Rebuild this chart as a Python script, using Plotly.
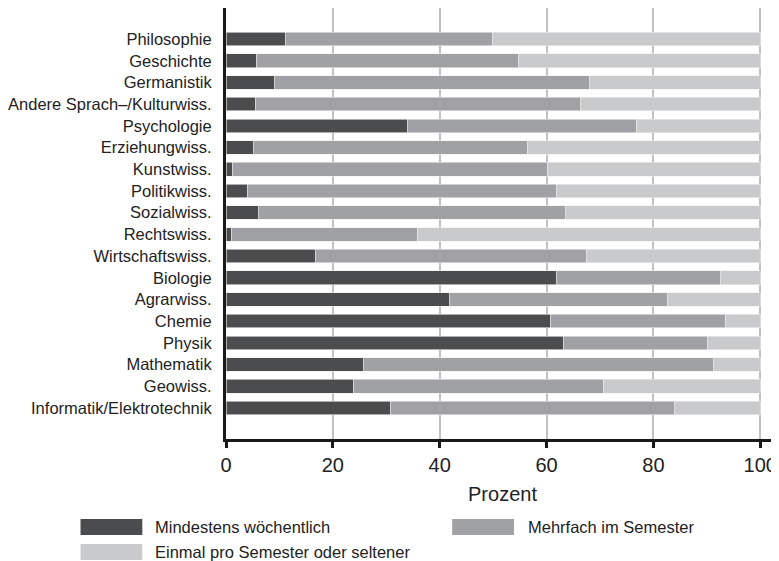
import plotly.graph_objects as go

# --- Data (percent of students) ---
faecher = [
    "Philosophie", "Geschichte", "Germanistik", "Andere Sprach–/Kulturwiss.",
    "Psychologie", "Erziehungwiss.", "Kunstwiss.", "Politikwiss.", "Sozialwiss.",
    "Rechtswiss.", "Wirtschaftswiss.", "Biologie", "Agrarwiss.", "Chemie",
    "Physik", "Mathematik", "Geowiss.", "Informatik/Elektrotechnik",
]
woechentlich = [11.1, 5.8, 9.0, 5.6, 33.9, 5.1, 1.3, 4.1, 6.0, 1.1,
                16.8, 61.8, 41.8, 60.8, 63.2, 25.7, 23.9, 30.8]
mehrfach = [38.8, 48.9, 59.0, 60.8, 43.0, 51.4, 58.8, 57.7, 57.5, 34.8,
            50.7, 30.7, 40.8, 32.7, 26.9, 65.5, 46.8, 53.1]
selten = [50.1, 45.3, 32.0, 33.6, 23.1, 43.5, 39.9, 38.2, 36.5, 64.1,
          32.5, 7.5, 17.4, 6.5, 9.9, 8.8, 29.3, 16.1]

serien = ["Mindestens wöchentlich", "Mehrfach im Semester", "Einmal pro Semester oder seltener"]
farben = ["#4b4c4e", "#a0a1a4", "#c9cacc"]

# the page body has an 8px margin, so the figure is 8px smaller than the window
OFF = 8
W, H = 779 - OFF, 561 - OFF
L, R, T, B = 224 - OFF, 0, 8 - OFF, 122
FONT = "Liberation Sans, Arial, sans-serif"

fig = go.Figure()
for name, vals, col in zip(serien, [woechentlich, mehrfach, selten], farben):
    fig.add_trace(go.Bar(
        y=faecher, x=vals, name=name, orientation="h",
        marker=dict(color=col, line=dict(color="#eeeeee", width=0.6)),
        width=0.63, showlegend=False,
    ))

# hand-made legend with wide swatches (window pixel positions -> paper coords)
def px(x):
    return (x - OFF - L) / (W - L - R)

def py(y):
    return (H - B - (y - OFF)) / (H - T - B)

legend_pos = [(78, 519, 151), (451, 519, 525), (78, 544, 151)]
for name, col, (x0, y0, tx) in zip(serien, farben, legend_pos):
    fig.add_shape(type="rect", xref="paper", yref="paper",
                  x0=px(x0), x1=px(x0 + 62), y0=py(y0), y1=py(y0 + 16),
                  fillcolor=col, line=dict(width=0))
    fig.add_annotation(xref="paper", yref="paper", x=px(tx), y=py(y0 + 8),
                       text=name, showarrow=False, xanchor="left", yanchor="middle",
                       font=dict(size=16.5, color="#222222", family=FONT))

fig.update_layout(
    barmode="stack",
    width=W, height=H,
    margin=dict(l=L, r=R, t=T, b=B),
    plot_bgcolor="white", paper_bgcolor="white",
    font=dict(family=FONT, color="#222222"),
)
fig.update_xaxes(
    range=[0, 103.5], tickvals=[0, 20, 40, 60, 80, 100],
    showgrid=True, gridcolor="#c0c1c3", gridwidth=2,
    showline=True, linecolor="#1a1a1a", linewidth=3,
    ticks="outside", ticklen=6, tickwidth=3, tickcolor="#1a1a1a",
    tickfont=dict(size=20), zeroline=False,
    title=dict(text="Prozent", font=dict(size=20), standoff=12),
)
fig.update_yaxes(
    categoryorder="array", categoryarray=faecher,
    range=[17 + 1.43, -1.43],
    showline=True, linecolor="#1a1a1a", linewidth=3,
    showgrid=False, ticks="", tickfont=dict(size=16.5),
    ticklabelstandoff=8,
)

fig.write_html("out.html")
